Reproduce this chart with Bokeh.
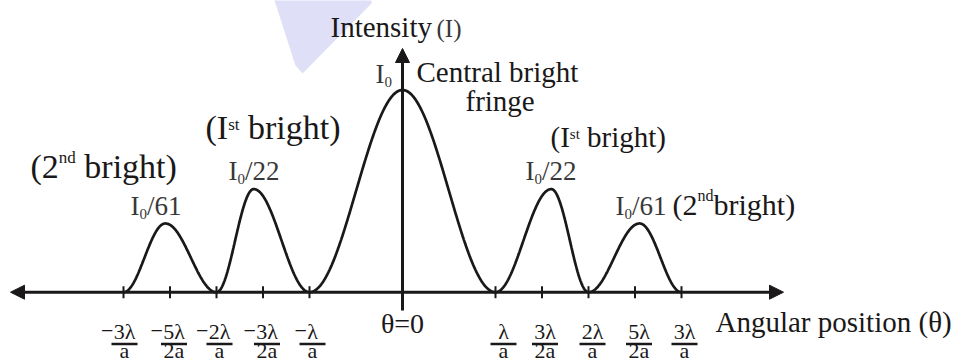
import numpy as np
from bokeh.plotting import figure
from bokeh.models import Arrow, NormalHead, Range1d
from bokeh.core.properties import value
from bokeh.embed import file_html
from bokeh.resources import INLINE

# ---------------------------------------------------------------
# Single-slit diffraction pattern (schematic), angle in units of λ/a
# ---------------------------------------------------------------
zero_theta = [-3, -2, -1, 1, 2, 3]              # minima positions
peak_theta = [-2.55, -1.6, 0.0, 1.6, 2.55]      # maxima positions
peak_height = [0.34, 0.51, 1.0, 0.51, 0.34]     # drawn relative heights of the fringes

tick_theta = [-3, -2.5, -2, -1.5, -1, 1, 1.5, 2, 2.5, 3]
tick_sign = ["−", "−", "−", "−", "−", "", "", "", "", ""]
tick_num = ["3λ", "5λ", "2λ", "3λ", "λ", "λ", "3λ", "2λ", "5λ", "3λ"]
tick_den = ["a", "2a", "a", "2a", "a", "a", "2a", "a", "2a", "a"]

# ---------------------------------------------------------------
# Canvas geometry: origin of the axes and pixel scale
# ---------------------------------------------------------------
W, H = 956, 363
OX, OY = 402.0, 291.7          # pixel position of (θ=0, I=0)
KX, KY = 93.0, 202.2           # pixels per unit along θ and I

def sx(px):
    return (px - OX) / KX

def sy(py):
    return (OY - py) / KY

# anchor for a text whose alphabetic baseline should sit at base_px
BASE_FIX = 0.37

def ty(base_px, size):
    return sy(base_px - BASE_FIX * size)

INK = "#1a1818"
GREY = "#383838"
FONT = value("Liberation Serif")

ADV = {" ": 250, "(": 333, ")": 333, "/": 278, "=": 564, "A": 722, "C": 667,
       "I": 333, "a": 444, "b": 500, "d": 500, "e": 444, "f": 333, "g": 500,
       "h": 500, "i": 278, "l": 278, "n": 500, "o": 500, "p": 500, "r": 333,
       "s": 389, "t": 278, "u": 500, "y": 500, "θ": 500, "λ": 550, "−": 564}

def advance(s, size):
    return sum(ADV.get(ch, 500) for ch in s) / 1000.0 * size

p = figure(width=W, height=H,
           x_range=Range1d(sx(0), sx(W)), y_range=Range1d(sy(H), sy(0)),
           output_backend="svg", toolbar_location=None,
           x_axis_location=None, y_axis_location=None,
           min_border=0, outline_line_color=None,
           background_fill_color="white", border_fill_color="white")
p.grid.grid_line_color = None

# faint backdrop shape in the upper left
p.patch(x=[sx(273), sx(371), sx(371), sx(302), sx(295)],
        y=[sy(-3), sy(-3), sy(3), sy(73), sy(65)],
        fill_color="#dfdff7", line_color=None)

# ---------------------------------------------------------------
# Intensity curve: each fringe rises and falls smoothly between minima
# ---------------------------------------------------------------
t = np.linspace(0.0, 1.0, 80)
cx, cy = [], []
for i, (pk, h) in enumerate(zip(peak_theta, peak_height)):
    z0, z1 = zero_theta[i], zero_theta[i + 1]
    cx.extend(z0 + t * (pk - z0))
    cy.extend(h * np.sin(np.pi * t / 2) ** 2)
    cx.extend(pk + t[1:] * (z1 - pk))
    cy.extend(h * np.cos(np.pi * t[1:] / 2) ** 2)
p.line(cx, cy, line_color=INK, line_width=2.7)

# ---------------------------------------------------------------
# Axes with arrow heads and tick marks
# ---------------------------------------------------------------
p.add_layout(Arrow(start=NormalHead(size=14, fill_color=INK, line_color=INK),
                   end=NormalHead(size=14, fill_color=INK, line_color=INK),
                   x_start=sx(10), y_start=0, x_end=sx(783), y_end=0,
                   line_color=INK, line_width=3))
p.add_layout(Arrow(start=None,
                   end=NormalHead(size=14, fill_color=INK, line_color=INK),
                   x_start=0, y_start=sy(310), x_end=0, y_end=sy(48),
                   line_color=INK, line_width=3))

tick_half = 6 / KY
p.segment(x0=tick_theta, y0=[-tick_half] * len(tick_theta),
          x1=tick_theta, y1=[tick_half] * len(tick_theta),
          line_color=INK, line_width=2)

# fraction tick labels: numerator / bar / denominator
FRAC = 22
nudge_px = [1, 4, 3, 4, 3, 8, 3, 4, 4, 3]       # small horizontal set-off from each tick
bar_half = 13 / KX
lab_x = [th + d / KX for th, d in zip(tick_theta, nudge_px)]
n = len(lab_x)
p.text(x=lab_x, y=[ty(339, FRAC)] * n, text=tick_num,
       text_font=FONT, text_font_size=f"{FRAC}px", text_color=INK,
       text_align="center", text_baseline="alphabetic")
sign_x = [x - advance(s, FRAC) / 2 / KX + 0.5 / KX for x, s in zip(lab_x, tick_num)]
p.text(x=sign_x, y=[ty(339, FRAC)] * n,
       text=tick_sign, text_font=FONT, text_font_size=f"{FRAC}px", text_color=INK,
       text_align="right", text_baseline="alphabetic")
p.segment(x0=[x - bar_half for x in lab_x], y0=[sy(343.5)] * n,
          x1=[x + bar_half for x in lab_x], y1=[sy(343.5)] * n,
          line_color=INK, line_width=2.5)
p.text(x=lab_x, y=[ty(358, FRAC)] * n, text=tick_den,
       text_font=FONT, text_font_size=f"{FRAC}px", text_color=INK,
       text_align="center", text_baseline="alphabetic")

# ---------------------------------------------------------------
# Text labels built from runs (main text, raised or lowered small text)
# ---------------------------------------------------------------
def runs(x_px, base_px, parts, color=INK):
    x = x_px
    for txt, size, rise in parts:
        lead = txt[:len(txt) - len(txt.lstrip())]
        x += advance(lead, size)
        body = txt.strip()
        if body:
            p.text(x=[sx(x)], y=[ty(base_px - rise, size)], text=[body],
                   text_font=FONT, text_font_size=f"{size}px", text_color=color,
                   text_align="left", text_baseline="alphabetic")
        x += advance(txt.lstrip(), size)

# vertical axis title
runs(330, 37, [("Intensity", 29, 0)])
runs(436, 37, [("(I)", 25, 0)], GREY)

# central maximum
runs(375, 83, [("I", 27, 0), ("0", 15, -4)], GREY)
runs(416, 82, [("Central bright", 29, 0)])
runs(465, 111, [("fringe", 29, 0)])

# left side fringes
runs(205, 140, [("(I", 34, 0), ("st", 17, 10), (" bright)", 34, 0)])
runs(30, 179, [("(2", 34, 0), ("nd", 17, 16), (" bright)", 34, 0)])
runs(228, 180, [("I", 27, 0), ("0", 15, -4), ("/22", 27, 0)], GREY)
runs(130, 215, [("I", 27, 0), ("0", 15, -4), ("/61", 27, 0)], GREY)

# right side fringes
runs(550, 147, [("(I", 29, 0), ("st", 15, 8), (" bright)", 29, 0)])
runs(525, 180, [("I", 27, 0), ("0", 15, -4), ("/22", 27, 0)], GREY)
runs(615, 215, [("I", 27, 0), ("0", 15, -4), ("/61", 27, 0)], GREY)
runs(672, 215, [("(2", 30, 0), ("nd", 16, 14), ("bright)", 30, 0)])

# horizontal axis labels
p.text(x=[0], y=[ty(333, 28)], text=["θ=0"], text_font=FONT, text_font_size="28px",
       text_color=INK, text_align="center", text_baseline="alphabetic")
runs(715, 332, [("Angular position (θ)", 29, 0)])

open("out.html", "w").write(file_html(p, INLINE))
